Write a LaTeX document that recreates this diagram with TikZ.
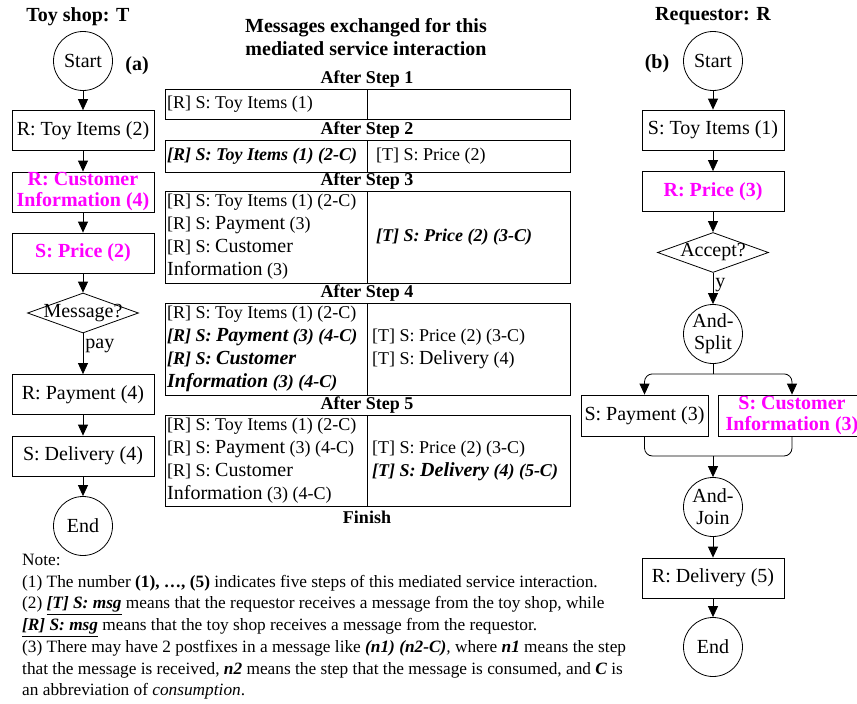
\documentclass[tikz,border=0pt]{standalone}
\usepackage{fontspec}
\setmainfont{Liberation Serif}
\usetikzlibrary{shapes.geometric,arrows.meta}

\definecolor{mag}{RGB}{255,0,255}
% 表格中稍大的词
\newcommand\bigw[1]{{\fontsize{20}{23}\selectfont #1}}

\begin{document}
\begin{tikzpicture}[
    x=1pt, y=-1pt,
    font=\fontsize{20}{21}\selectfont,
    box/.style={draw, line width=0.8pt, minimum width=142pt, minimum height=40pt, inner sep=0pt, align=center},
    hot/.style={box, text=mag, font=\fontsize{20}{21}\selectfont\bfseries},
    state/.style={draw, circle, line width=0.8pt, minimum size=59pt, inner sep=0pt, align=center, font=\fontsize{20}{22}\selectfont},
    decision/.style={draw, diamond, line width=0.8pt, minimum width=111pt, minimum height=40pt, inner sep=0pt},
    arr/.style={line width=0.8pt, -{Triangle[length=11pt, width=10pt]}},
    celltext/.style={anchor=west, align=left, inner sep=0pt, font=\fontsize{18}{23}\selectfont},
    stephead/.style={font=\fontsize{18}{20}\selectfont\bfseries},
    title/.style={font=\fontsize{20}{23}\selectfont\bfseries, align=center},
]
  \useasboundingbox (0,0) rectangle (857,704);

  % 标题
  \node[title] (ttitle) at (78,17) {Toy shop: T};
  \node[title] (mtitle) at (366,37) {Messages exchanged for this\\mediated service interaction};
  \node[title] (rtitle) at (713,16) {Requestor: R};
  \node[title] (la) at (137,66) {(a)};
  \node[title] (lb) at (657,64) {(b)};

  % 玩具店 T 的流程
  \node[state] (tStart) at (83,61) {Start};
  \node[box] (tItems) at (83,130.5) {R: Toy Items (2)};
  \node[hot] (tCust) at (83,192) {R: Customer\\Information (4)};
  \node[hot] (tPrice) at (83,253) {S: Price (2)};
  \node[decision, label={center:Message?}] (tMsg) at (83,313) {};
  \node[box] (tPay) at (83,394.5) {R: Payment (4)};
  \node[box] (tDel) at (83,456) {S: Delivery (4)};
  \node[state] (tEnd) at (83,526) {End};

  \draw[arr] (tStart) -- (tItems);
  \draw[arr] (tItems) -- (tCust);
  \draw[arr] (tCust) -- (tPrice);
  \draw[arr] (tPrice) -- (tMsg);
  \draw[arr] (tMsg) -- node[right, pos=0.32, inner sep=2pt] {pay} (tPay);
  \draw[arr] (tPay) -- (tDel);
  \draw[arr] (tDel) -- (tEnd);

  % 请求者 R 的流程
  \node[state] (rStart) at (713,61) {Start};
  \node[box] (rItems) at (713,130) {S: Toy Items (1)};
  \node[hot] (rPrice) at (713,191.5) {R: Price (3)};
  \node[decision, label={center:Accept?}] (rAcc) at (713,252.5) {};
  \node[state] (rSplit) at (713,334) {And-\\Split};
  \node[box, minimum width=127pt, minimum height=41pt] (rPay) at (644.5,415.5) {S: Payment (3)};
  \node[hot, minimum width=148pt, minimum height=41pt] (rCust) at (792,415.5) {S: Customer\\Information (3)};
  \node[state] (rJoin) at (713,507) {And-\\Join};
  \node[box] (rDel) at (713,578) {R: Delivery (5)};
  \node[state] (rEnd) at (713,647) {End};

  \draw[arr] (rStart) -- (rItems);
  \draw[arr] (rItems) -- (rPrice);
  \draw[arr] (rPrice) -- (rAcc);
  \draw[arr] (rAcc) -- node[right, pos=0.4, inner sep=2pt] {y} (rSplit);
  \draw[line width=0.8pt] (rSplit.south) -- ++(0,10) coordinate (splitpt);
  \draw[arr, rounded corners=8pt] (splitpt) -| (rPay.north);
  \draw[arr, rounded corners=8pt] (splitpt) -| (rCust.north);
  \coordinate (joinpt) at (713,456);
  \draw[line width=0.8pt, rounded corners=8pt] (rPay.south) |- (joinpt) -| (rCust.south);
  \draw[arr] (joinpt) -- (rJoin);
  \draw[arr] (rJoin) -- (rDel);
  \draw[arr] (rDel) -- (rEnd);

  % 消息表
  \foreach \ya/\yb/\n in {89/119/1, 140/172/2, 191/283/3, 303/395/4, 415/506/5} {
    \draw[line width=0.8pt] (165,\ya) rectangle (570,\yb);
    \draw[line width=0.8pt] (367,\ya) -- (367,\yb);
    \node[stephead] (h\n) at (367,{\ya-10}) {After Step \n};
  }
  \node[stephead] (fin) at (367,517) {Finish};

  \node[celltext] (s1l) at (167,104) {[R] S: Toy Items (1)};
  \node[celltext] (s2l) at (167,156) {\textbf{\textit{[R] S: Toy Items (1) (2-C)}}};
  \node[celltext] (s2r) at (376,156) {[T] S: Price (2)};
  \node[celltext] (s3l) at (167,237) {[R] S: Toy Items (1) (2-C)\\
    {}[R] S: \bigw{Payment} (3)\\
    {}[R] S: \bigw{Customer}\\
    \bigw{Information} (3)};
  \node[celltext] (s3r) at (376,237) {\textbf{\textit{[T] S: Price (2) (3-C)}}};
  \node[celltext] (s4l) at (167,349) {[R] S: Toy Items (1) (2-C)\\
    \textbf{\textit{[R] S: \bigw{Payment} (3) (4-C)}}\\
    \textbf{\textit{[R] S: \bigw{Customer}}}\\
    \textbf{\textit{\bigw{Information} (3) (4-C)}}};
  \node[celltext] (s4r) at (372,349) {[T] S: Price (2) (3-C)\\
    {}[T] S: \bigw{Delivery} (4)};
  \node[celltext] (s5l) at (167,460.5) {[R] S: Toy Items (1) (2-C)\\
    {}[R] S: \bigw{Payment} (3) (4-C)\\
    {}[R] S: \bigw{Customer}\\
    \bigw{Information} (3) (4-C)};
  \node[celltext] (s5r) at (372,460.5) {[T] S: Price (2) (3-C)\\
    \textbf{\textit{[T] S: \bigw{Delivery} (4) (5-C)}}};

  % 说明文字
  \node[anchor=north west, align=left, inner sep=0pt, font=\fontsize{17.3}{21.7}\selectfont] (note) at (22,554) {Note:\\
    (1) The number \textbf{(1), …, (5)} indicates five steps of this mediated service interaction.\\
    (2) \underline{\textbf{\textit{[T] S: msg}}} means that the requestor receives a message from the toy shop, while\\
    \underline{\textbf{\textit{[R] S: msg}}} means that the toy shop receives a message from the requestor.\\
    (3) There may have 2 postfixes in a message like \textbf{\textit{(n1) (n2-C)}}\textit{,} where \textbf{\textit{n1}} means the step\\
    that the message is received, \textbf{\textit{n2}} means the step that the message is consumed, and \textbf{\textit{C}} is\\
    an abbreviation of \textit{consumption}.};

\end{tikzpicture}
\end{document}
